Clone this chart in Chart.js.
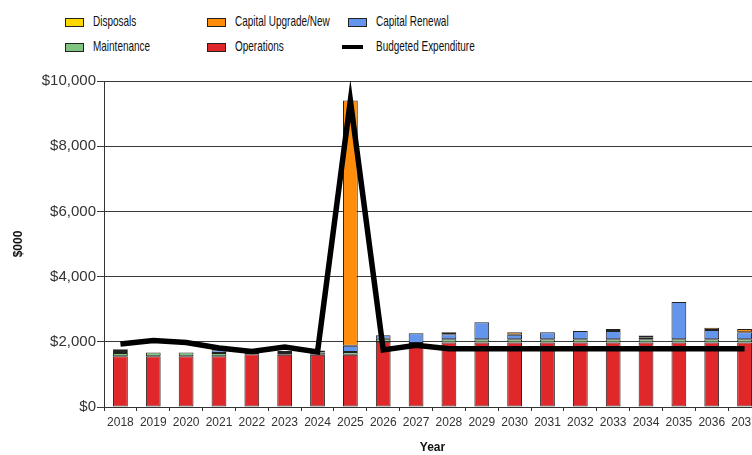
<!DOCTYPE html>
<html>
<head>
<meta charset="utf-8">
<script src="https://cdn.jsdelivr.net/npm/chart.js@4/dist/chart.umd.min.js"></script>
<style>
  html, body { margin: 0; padding: 0; background: #fff; overflow: hidden; }
  #wrap { position: relative; width: 752px; height: 455px; overflow: hidden; }
  #chartBox { position: absolute; left: 0; top: 0; width: 770px; height: 455px; }
  #legend { position: absolute; left: 0; top: 0; width: 752px; height: 62px;
            font-family: "Liberation Sans", Arial, sans-serif; font-size: 15px; color: #111; }
  .item { position: absolute; height: 16px; }
  .swatch { position: absolute; top: 4px; width: 17px; height: 7px; border: 1px solid #222; }
  .dash { position: absolute; top: 6px; width: 21px; height: 4px; background: #000; }
  .label { position: absolute; left: 28px; top: -2px; white-space: nowrap;
           transform: scaleX(0.665); transform-origin: 0 50%; }
</style>
</head>
<body>
<div id="wrap">
  <div id="legend"></div>
  <div id="chartBox"><canvas id="costChart"></canvas></div>
</div>
<script>
// #### Data ($000)
const years = ['2018','2019','2020','2021','2022','2023','2024','2025','2026','2027',
               '2028','2029','2030','2031','2032','2033','2034','2035','2036','2037'];

const operations  = [1560,1560,1560,1560,1620,1600,1600,1600,2000,1850,1980,1980,1980,1980,1980,1980,1980,1980,1980,1980];
const maintenance = [ 100, 110, 110, 100,  60,  60,  70,  90,  90, 110, 100, 100, 100, 100, 100, 100, 100, 100, 100, 100];
const renewal     = [   0,   0,   0,  80,   0,  60,  60, 190, 110, 300, 150, 520, 140, 210, 250, 250,  60,1140, 280, 210];
const upgrade     = [  60,   0,   0,  40,   0,   0,   0,7520,   0,   0,  60,   0,  70,   0,   0,  60,  50,   0,  70, 100];
const disposals   = [  50,   0,   0,   0,   0,   0,   0,   0,   0,   0,   0,   0,   0,   0,   0,   0,   0,   0,   0,   0];
const budget      = [1930,2040,1980,1810,1700,1840,1690,9400,1750,1890,1790,1790,1790,1790,1790,1790,1790,1790,1790,1790];

const yTicks = [0, 2000, 4000, 6000, 8000, 10000];

// #### Legend (drawn as html, three columns)
const legendItems = [
    { text: 'Disposals',            color: '#ffd800', x: 65,  y: 14 },
    { text: 'Capital Upgrade/New',  color: '#ff8c0a', x: 207, y: 14 },
    { text: 'Capital Renewal',      color: '#6495ed', x: 348, y: 14 },
    { text: 'Maintenance',          color: '#7fc47f', x: 65,  y: 39 },
    { text: 'Operations',           color: '#e0282a', x: 207, y: 39 },
    { text: 'Budgeted Expenditure', color: null,      x: 342, y: 39 }
];

const legendEl = document.getElementById('legend');
legendItems.forEach(item => {
    const div = document.createElement('div');
    div.className = 'item';
    div.style.left = item.x + 'px';
    div.style.top = item.y + 'px';
    if (item.color) {
        div.innerHTML = '<span class="swatch" style="background:' + item.color + '"></span>' +
                        '<span class="label">' + item.text + '</span>';
    } else {
        div.innerHTML = '<span class="dash"></span>' +
                        '<span class="label" style="left:34px">' + item.text + '</span>';
    }
    legendEl.appendChild(div);
});

// #### Chart
function barSet(label, data, color) {
    return {
        type: 'bar',
        label: label,
        data: data,
        backgroundColor: color,
        borderColor: '#222',
        borderWidth: 1,
        borderSkipped: false,
        barPercentage: 0.45,
        categoryPercentage: 1,
        stack: 'cost',
        order: 2
    };
}

const ctx = document.getElementById('costChart').getContext('2d');
new Chart(ctx, {
    data: {
        labels: years,
        datasets: [
            barSet('Operations', operations, '#e0282a'),
            barSet('Maintenance', maintenance, '#7fc47f'),
            barSet('Capital Renewal', renewal, '#6495ed'),
            barSet('Capital Upgrade/New', upgrade, '#ff8c0a'),
            barSet('Disposals', disposals, '#ffd800'),
            {
                type: 'line',
                label: 'Budgeted Expenditure',
                data: budget,
                borderColor: '#000',
                borderWidth: 5.5,
                pointRadius: 0,
                tension: 0,
                fill: false,
                stack: 'budget',
                order: 1
            }
        ]
    },
    options: {
        responsive: true,
        maintainAspectRatio: false,
        animation: false,
        devicePixelRatio: 1,
        layout: { padding: { top: 81, right: 9, bottom: 0, left: 0 } },
        scales: {
            x: {
                stacked: true,
                offset: true,
                grid: { display: true, drawOnChartArea: false, offset: true, tickLength: 4, color: '#333' },
                border: { color: '#333' },
                ticks: {
                    autoSkip: false, maxRotation: 0, padding: 4, color: '#333',
                    font: { family: 'Liberation Sans', size: 12 }
                },
                title: {
                    display: true, text: 'Year', color: '#111',
                    padding: { top: 0, bottom: 0 },
                    font: { family: 'Liberation Sans', size: 12, weight: 'bold' }
                },
                afterFit: scale => { scale.height = 48; }
            },
            y: {
                stacked: true,
                min: 0,
                max: 10000,
                afterBuildTicks: scale => { scale.ticks = yTicks.map(v => ({ value: v })); },
                grid: { color: '#3a3a3a', tickLength: 7 },
                border: { color: '#333' },
                ticks: {
                    padding: 1, color: '#333',
                    font: { family: 'Liberation Sans', size: 15 },
                    callback: v => '$' + v.toLocaleString('en-US')
                },
                title: {
                    display: true, text: '$000', color: '#111',
                    padding: { top: 11, bottom: 0 },
                    font: { family: 'Liberation Sans', size: 12, weight: 'bold' }
                },
                afterFit: scale => { scale.width = 104; }
            }
        },
        plugins: {
            legend: { display: false },
            tooltip: { enabled: false }
        }
    }
});
</script>
</body>
</html>
